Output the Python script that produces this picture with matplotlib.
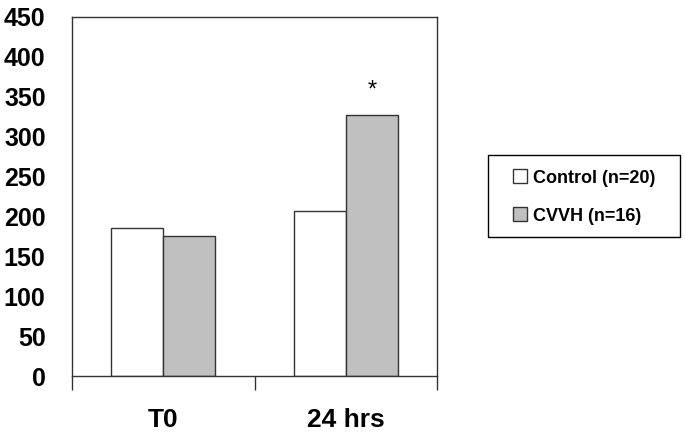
import numpy as np
import matplotlib.pyplot as plt
from matplotlib.patches import Rectangle

plt.rcParams['font.family'] = ['Liberation Sans', 'DejaVu Sans']

# data
categories = ["T0", "24 hrs"]
control = [186, 207]
cvvh = [175, 327]
series_labels = ["Control (n=20)", "CVVH (n=16)"]
yticks = list(range(0, 451, 50))

fig = plt.figure(figsize=(6.85, 4.4), dpi=100)
ax = fig.add_axes([72/685, 64/440, 365/685, 359/440])

x = np.arange(len(categories))
w = 0.285
b1 = ax.bar(x - w/2, control, w, color="white", edgecolor="#333333", linewidth=1.0,
            label=series_labels[0])
b2 = ax.bar(x + w/2, cvvh, w, color="#c0c0c0", edgecolor="#333333", linewidth=1.0,
            label=series_labels[1])

# significance marker
ax.text(x[1] + w/2, 358, "*", ha="center", va="center", fontsize=17)

ax.set_xlim(-0.5, 1.5)
ax.set_ylim(0, 450)
ax.set_yticks(yticks)
ax.set_yticklabels([str(t) for t in yticks], fontsize=18, fontweight="bold")
ax.tick_params(axis="y", length=0, pad=19)

# category boundaries as ticks, labels in between
ax.set_xticks([-0.5, 0.5, 1.5])
ax.set_xticklabels([])
ax.tick_params(axis="x", direction="out", length=10, width=1, color="#333333")
for xi, lab in zip(x, categories):
    ax.text(xi, -55, lab, ha="center", va="center", fontsize=19, fontweight="bold")

for s in ax.spines.values():
    s.set_color("#333333")
    s.set_linewidth(1)

# legend box drawn separately for exact size
fig.patches.append(Rectangle((488/685, 203/440), 192/685, 82/440, transform=fig.transFigure,
                             facecolor="white", edgecolor="black", linewidth=1, zorder=1))
leg = fig.legend(handles=[b1, b2], labels=series_labels, loc="center left",
                 bbox_to_anchor=(513/685, (440-197)/440), frameon=False,
                 prop={"size": 13, "weight": "bold"}, handlelength=0.8, handleheight=0.8,
                 handletextpad=0.3, labelspacing=1.15, borderpad=0, borderaxespad=0)
leg.set_zorder(2)

fig.savefig("out.png", dpi=100)
